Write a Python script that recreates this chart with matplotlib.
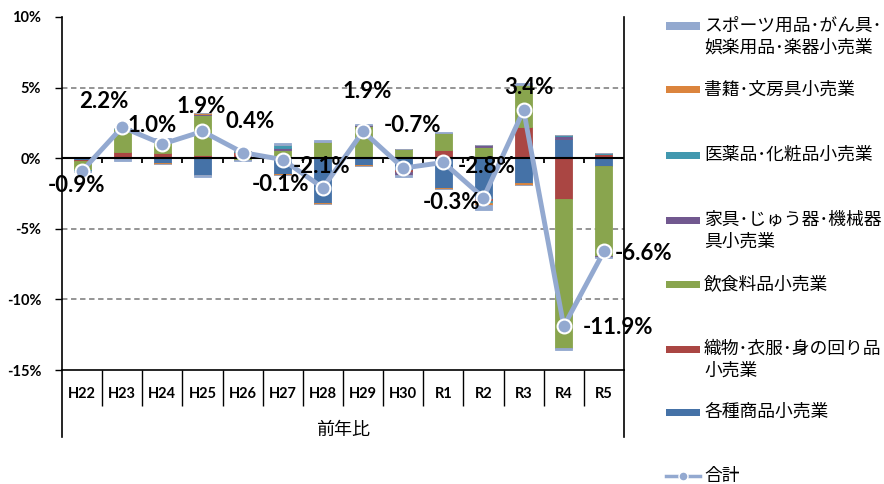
import numpy as np
import matplotlib
matplotlib.use("Agg")
import matplotlib.pyplot as plt
from matplotlib.patches import Rectangle
from matplotlib.lines import Line2D

plt.rcParams['font.family'] = ['Lato', 'Noto Sans CJK JP', 'DejaVu Sans']

categories = ['H22', 'H23', 'H24', 'H25', 'H26', 'H27', 'H28', 'H29', 'H30',
              'R1', 'R2', 'R3', 'R4', 'R5']

kakushu = [-0.10, 0.00, -0.35, -1.20, 0.00, -1.15, -3.15, -0.50, -0.85, -2.10, -2.90, -1.75, 1.35, -0.55]
orimono = [-0.10, 0.45, 0.35, 0.20, 0.45, 0.00, 0.10, 0.00, -0.15, 0.55, -0.10, 2.20, -2.90, 0.33]
inshoku = [-0.65, 1.60, 0.90, 2.85, -0.12, 0.55, 1.05, 2.25, 0.65, 1.20, 0.80, 3.00, -10.55, -6.38]
kagu = [0.00, 0.05, 0.00, 0.05, 0.00, 0.20, 0.00, 0.10, -0.20, 0.00, 0.10, 0.00, 0.20, -0.10]
iyaku = [-0.03, 0.05, 0.00, 0.00, 0.08, 0.20, 0.00, 0.00, 0.00, 0.00, -0.15, 0.00, 0.08, 0.07]
shoseki = [0.03, 0.00, -0.05, 0.10, 0.00, -0.05, -0.10, -0.05, 0.00, -0.07, -0.15, -0.12, 0.00, 0.00]
sports = [-0.10, -0.20, 0.20, -0.15, -0.10, 0.15, 0.15, 0.10, -0.15, 0.12, -0.40, 0.10, -0.12, -0.05]

total = [-0.9, 2.2, 1.0, 1.9, 0.4, -0.1, -2.1, 1.9, -0.7, -0.3, -2.8, 3.4, -11.9, -6.6]

# stacking order (first = closest to zero)
series = [
    ('各種商品小売業', kakushu, '#4572A7'),
    ('織物･衣服･身の回り品\n小売業', orimono, '#AA4643'),
    ('飲食料品小売業', inshoku, '#89A54E'),
    ('家具･じゅう器･機械器\n具小売業', kagu, '#71588F'),
    ('医薬品･化粧品小売業', iyaku, '#4198AF'),
    ('書籍･文房具小売業', shoseki, '#DB843D'),
    ('スポーツ用品･がん具･\n娯楽用品･楽器小売業', sports, '#93A9CF'),
]
line_color = '#93A9D0'
line_label = '合計'

# data label offsets (pixels)
label_offsets = [(-6, -15), (-18, 26), (-10, 19), (-1, 25), (7, 31), (-2, -25),
                 (-1, 21), (4, 40), (9, 43), (8, -40), (3, 31), (5, 23),
                 (54, -1), (40, -2)]

W, H = 884, 484
fig = plt.figure(figsize=(W / 100, H / 100), dpi=100)
ax = fig.add_axes([62 / W, 1 - 370 / H, (624 - 62) / W, (370 - 17) / H])

x = np.arange(len(categories))
pos_bottom = np.zeros(len(x))
neg_bottom = np.zeros(len(x))
for name, vals, col in series:
    v = np.array(vals, dtype=float)
    pos = np.where(v > 0, v, 0)
    neg = np.where(v < 0, v, 0)
    ax.bar(x, pos, 0.42, bottom=pos_bottom, color=col, edgecolor=col, linewidth=0.6, zorder=2)
    ax.bar(x, neg, 0.42, bottom=neg_bottom, color=col, edgecolor=col, linewidth=0.6, zorder=2)
    pos_bottom += pos
    neg_bottom += neg

ax.set_xlim(-0.5, len(categories) - 0.5)
ax.set_ylim(-15, 10)
yt = [-15, -10, -5, 0, 5, 10]
ax.set_yticks(yt)
ax.set_yticklabels([f'{v}%' for v in yt], fontsize=10.5, fontweight='bold', family='Lato')
for v in yt:
    if v not in (-15, 0, 10):
        ax.axhline(v, color='#8C8C8C', lw=1.3, ls=(0, (3, 2)), zorder=1)

# zero axis with small ticks at category boundaries
ax.axhline(0, color='black', lw=1.5, zorder=3)
bounds = np.arange(len(categories) - 1) + 0.5
ax.vlines(bounds, -0.35, 0, color='black', lw=1.3, zorder=3)

# category labels at bottom
ax.set_xticks(x)
ax.set_xticklabels(categories, fontsize=10.5, fontweight='bold', family='Lato')
ax.set_xticks(bounds, minor=True)
ax.tick_params(axis='x', which='major', length=0, pad=12)
ax.tick_params(axis='x', which='minor', length=26, width=1, direction='out', color='black')
ax.tick_params(axis='y', length=5, width=1, direction='out', pad=10)

for s in ['left', 'right', 'bottom']:
    ax.spines[s].set_color('black')
    ax.spines[s].set_linewidth(1.2)
ax.spines['top'].set_visible(False)
for xe in (-0.5, len(categories) - 0.5):
    ax.axvline(xe, ymin=-0.19, ymax=0, color='black', lw=1.2, clip_on=False)

ax.text(0.5, -0.17, '前年比', transform=ax.transAxes, ha='center', va='center',
        fontsize=13, family='Noto Sans CJK JP')

# total line
ax.plot(x, total, color=line_color, lw=3.5, marker='o', ms=10, mfc=line_color,
        mec='white', mew=1.5, zorder=5, clip_on=False)
for xi, t, (dx, dy) in zip(x, total, label_offsets):
    ax.annotate(f'{t:.1f}%', (xi, t), xytext=(dx, dy), textcoords='offset pixels',
                ha='center', va='center', fontsize=16, fontweight='bold',
                family='Lato', zorder=6, annotation_clip=False)

# legend (manual, Excel-like)
leg_y = [26, 90, 155, 220, 284, 349, 412]
leg_series = series[::-1]
for (name, vals, col), yy in zip(leg_series, leg_y):
    fig.add_artist(Rectangle((666 / W, 1 - (yy + 3.5) / H), 34 / W, 7 / H,
                             transform=fig.transFigure, facecolor=col, edgecolor='none'))
    for k, line in enumerate(name.split('\n')):
        fig.text(704 / W, 1 - (yy + 22 * k) / H, line, ha='left', va='center',
                 fontsize=12.8, family='Noto Sans CJK JP')
yy = 476
fig.add_artist(Line2D([666 / W, 700 / W], [1 - yy / H] * 2, transform=fig.transFigure,
                      color=line_color, lw=2.5, marker=None))
fig.add_artist(Line2D([683 / W], [1 - yy / H], transform=fig.transFigure,
                      color=line_color, marker='o', ms=6.5, mfc=line_color, mec='white', mew=1))
fig.text(704 / W, 1 - yy / H, line_label, ha='left', va='center', fontsize=12.8,
         family='Noto Sans CJK JP')

fig.savefig('out.png', dpi=100)
